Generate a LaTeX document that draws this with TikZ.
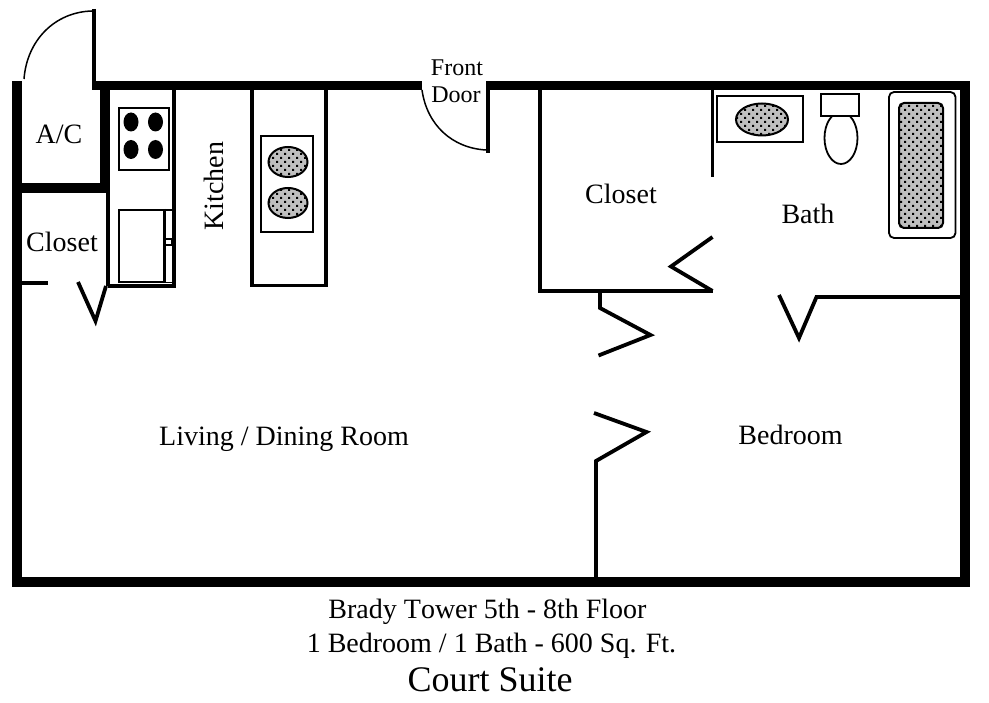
\documentclass[tikz,border=0pt]{standalone}
\usepackage{fontspec}
\usepackage{xcolor}
\setmainfont[Kerning=Off]{Liberation Serif}
\usetikzlibrary{patterns}

\pgfdeclarepatternformonly{basindots}{\pgfqpoint{-1pt}{-1pt}}{\pgfqpoint{8pt}{8pt}}{\pgfqpoint{8pt}{8pt}}{
    \pgfpathrectangle{\pgfqpoint{0pt}{0pt}}{\pgfqpoint{2pt}{2pt}}
    \pgfpathrectangle{\pgfqpoint{4pt}{4pt}}{\pgfqpoint{2pt}{2pt}}
    \pgfusepath{fill}
}

\tikzset{
    wall/.style={line width=9.5pt},
    partition/.style={line width=3.8pt, miter limit=20},
    fixture/.style={line width=1.8pt},
    swing/.style={line width=1.5pt},
    basin/.style={line width=2pt, fill=black!25},
    basindot/.style={pattern=basindots, pattern color=black},
    roomlabel/.style={inner sep=0pt, anchor=base, font=\fontsize{28}{28}\selectfont},
    doorlabel/.style={inner sep=0pt, anchor=base, font=\fontsize{24}{24}\selectfont},
}

\begin{document}
\begin{tikzpicture}[x=1pt, y=-1pt]
            \path[use as bounding box, fill=white] (0, 0) rectangle (989, 703);

            % outer walls
            \draw[wall] (422, 85.5) -- (92, 85.5);
            \draw[wall] (486, 85.5) -- (965, 85.5) -- (965, 582) -- (17, 582) -- (17, 81);

            % entry and A/C
            \draw[line width=4.5pt] (94, 9) -- (94, 90);
            \draw[swing] (24, 79) .. controls (27, 40) and (55, 12) .. (92, 11);
            \draw[line width=9.5pt] (105, 90) -- (105, 188) -- (22, 188);

            % closet
            \draw[partition] (108, 193) -- (108, 286) (22, 283) -- (48, 283);
            \draw[partition] (106, 286) -- (95.5, 321) -- (78, 282);

            % kitchen
            \draw[partition] (174, 90) -- (174, 286) -- (108, 286);
            \draw[fixture] (119, 108) rectangle (169, 170);
            \foreach \bx in {131, 155.5} {
                \foreach \by in {122, 149.5} {
                    \fill (\bx, \by) ellipse [x radius=7.5, y radius=9.5];
                }
            }
            \draw[fixture] (164, 210) -- (119, 210) -- (119, 282) -- (164, 282);
            \draw[line width=3pt] (164, 209) -- (164, 283);
            \draw[fixture] (164, 210) -- (172, 210) (164, 282.5) -- (172, 282.5);
            \draw[line width=1.5pt, fill=white] (165, 239) rectangle (172, 245);

            % island
            \draw[partition] (252, 90) -- (252, 285.5) -- (326, 285.5) -- (326, 90);
            \draw[fixture] (261, 136) rectangle (313, 232);
            \foreach \by in {162, 203} {
                \draw[basin] (288, \by) ellipse [x radius=19.5, y radius=15];
                \fill[basindot] (288, \by) ellipse [x radius=19.5, y radius=15];
            }

            % front door
            \draw[line width=4.5pt] (488, 90) -- (488, 153);
            \draw[swing] (422, 90) .. controls (427, 125) and (452, 148) .. (486, 150);

            % walk-in closet
            \draw[partition] (540, 90) -- (540, 291) -- (712.5, 291);
            \draw[partition] (712.5, 90) -- (712.5, 177);
            \draw[partition] (712.5, 237) -- (671, 266.5) -- (712.5, 291);
            \draw[partition] (600, 291) -- (600, 308) -- (650.5, 335) -- (598.5, 355.5);

            % bedroom
            \draw[partition] (596, 577) -- (596, 461) -- (646.5, 432) -- (594, 413);
            \draw[partition] (960, 297) -- (816.5, 297) -- (799, 338) -- (779, 295);

            % bath
            \draw[fixture] (717, 96) rectangle (803, 142);
            \draw[basin] (762, 119.5) ellipse [x radius=26, y radius=16];
            \fill[basindot] (762, 119.5) ellipse [x radius=26, y radius=16];
            \draw[fixture] (841, 138) ellipse [x radius=16.5, y radius=26];
            \draw[fixture, fill=white] (821, 94) rectangle (859, 116);
            \draw[fixture, rounded corners=5pt] (889, 92) rectangle (955.5, 238);
            \draw[basin, rounded corners=5pt] (899, 103) rectangle (943, 228);
            \fill[basindot, rounded corners=5pt] (899, 103) rectangle (943, 228);

            % labels
            \node[roomlabel] (ac) at (59, 144) {A/C};
            \node[roomlabel] (closetwest) at (62, 252) {Closet};
            \node[roomlabel, rotate=90] (kitchen) at (223, 186) {Kitchen};
            \node[roomlabel] (living) at (284, 446) {Living / Dining Room};
            \node[doorlabel] (front) at (457, 76) {Front};
            \node[doorlabel] (door) at (456, 103) {Door};
            \node[roomlabel] (closeteast) at (621, 204) {Closet};
            \node[roomlabel] (bath) at (808, 224) {Bath};
            \node[roomlabel] (bedroom) at (790.5, 445) {Bedroom};
            \node[roomlabel] (building) at (487.5, 618) {Brady Tower 5th - 8th Floor};
            \node[roomlabel] (size) at (491.5, 652) {1 Bedroom / 1 Bath - 600 Sq. Ft.};
            \node[roomlabel, font=\fontsize{36}{36}\selectfont] (suite) at (490, 691) {Court Suite};
        \end{tikzpicture}
\end{document}
